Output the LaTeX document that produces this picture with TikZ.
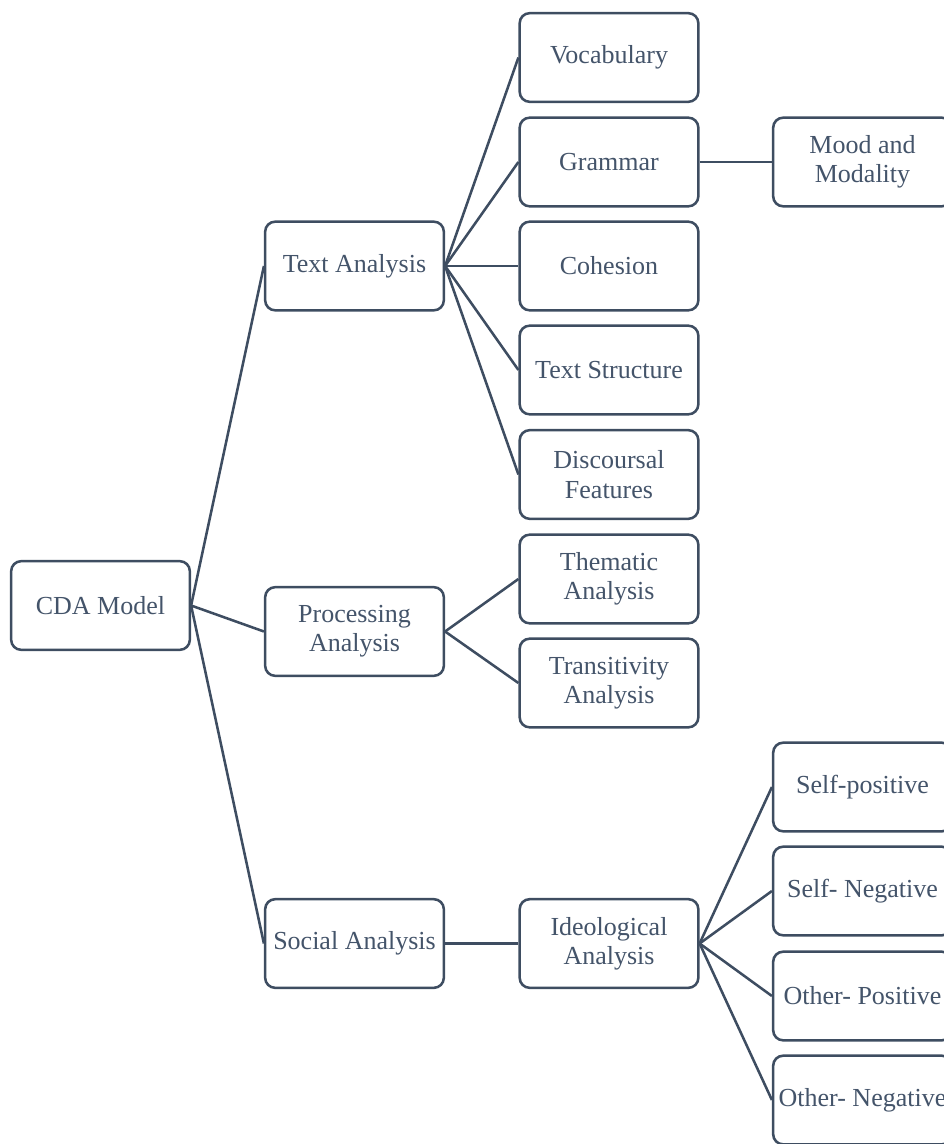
\documentclass[tikz,border=0pt]{standalone}
\usepackage{fontspec}
\setmainfont{Liberation Serif}
\definecolor{linec}{HTML}{3E4D61}
\definecolor{textc}{HTML}{44546A}
\begin{document}
\begin{tikzpicture}[x=0.75pt,y=-0.75pt,
  box/.style={draw=linec,line width=1.9pt,rounded corners=7.5pt,fill=white,
    minimum width=134pt,minimum height=66.5pt,inner sep=0pt,align=center,
    text=textc,font=\fontsize{19.5}{22}\selectfont},
  conn/.style={draw=linec,line width=1.9pt}]
\useasboundingbox (0,0) rectangle (944,1144);
\clip (0,0) rectangle (944,1144);
\node[box] (cda) at (100.5,605.5) {CDA Model};
\node[box] (text) at (354.5,266) {Text Analysis};
\node[box] (proc) at (354.5,631.5) {Processing\\Analysis};
\node[box] (soc) at (354.5,943.5) {Social Analysis};
\node[box] (voc) at (609,57.5) {Vocabulary};
\node[box] (gram) at (609,162) {Grammar};
\node[box] (coh) at (609,266) {Cohesion};
\node[box] (ts) at (609,370) {Text Structure};
\node[box] (disc) at (609,474.5) {Discoursal\\Features};
\node[box] (them) at (609,579) {Thematic\\Analysis};
\node[box] (trans) at (609,683) {Transitivity\\Analysis};
\node[box] (ideo) at (609,943.5) {Ideological\\Analysis};
\node[box] (mood) at (862.5,162) {Mood and\\Modality};
\node[box] (sp) at (862.5,787) {Self-positive};
\node[box] (sn) at (862.5,891) {Self- Negative};
\node[box] (op) at (862.5,996) {Other- Positive};
\node[box] (on) at (862.5,1100) {Other- Negative};
\foreach \c in {text,proc,soc} \draw[conn] (cda.east) -- (\c.west);
\foreach \c in {voc,gram,coh,ts,disc} \draw[conn] (text.east) -- (\c.west);
\foreach \c in {them,trans} \draw[conn] (proc.east) -- (\c.west);
\draw[conn] (soc.east) -- (ideo.west);
\draw[conn] (gram.east) -- (mood.west);
\foreach \c in {sp,sn,op,on} \draw[conn] (ideo.east) -- (\c.west);
\end{tikzpicture}
\end{document}
